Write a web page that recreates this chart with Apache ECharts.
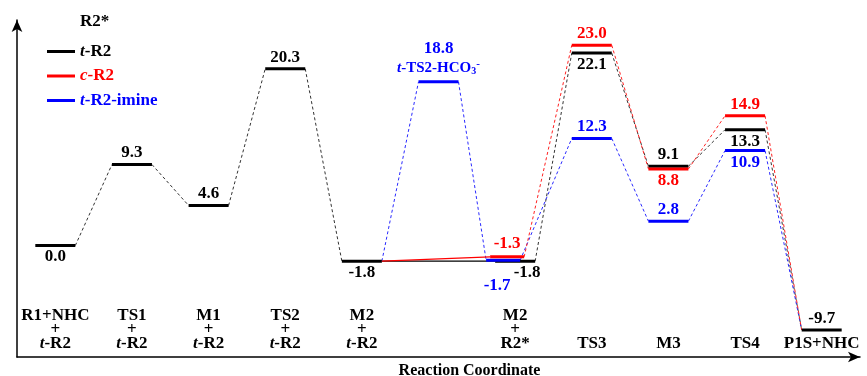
<!DOCTYPE html>
<html><head><meta charset="utf-8">
<script src="https://cdn.jsdelivr.net/npm/echarts@6/dist/echarts.min.js"></script>
<style>html,body{margin:0;padding:0;background:#fff}#c{width:867px;height:376px}</style>
</head><body><div id="c"></div>
<script>
// ---- data ----
const categories = ['R1+NHC\n+\nt-R2', 'TS1\n+\nt-R2', 'M1\n+\nt-R2', 'TS2\n+\nt-R2', 'M2\n+\nt-R2', '', 'M2\n+\nR2*', 'TS3', 'M3', 'TS4', 'P1S+NHC'];
const tR2      = [0.0, 9.3, 4.6, 20.3, -1.8, null, -1.8, 22.1, 9.1, 13.3, -9.7];
const cR2      = [null, null, null, null, null, null, -1.3, 23.0, 8.8, 14.9, null];
const tR2imine = [null, null, null, null, null, 18.8, -1.7, 12.3, 2.8, 10.9, null];
const seriesNames = ['t-R2', 'c-R2', 't-R2-imine'];
const specialStateName = 't-TS2-HCO3-';
const headerText = 'R2*';
const axisName = 'Reaction Coordinate';

// ---- styles ----
const FONT = '"Liberation Serif","Times New Roman",serif';
const COLORS = {'t-R2': '#000000', 'c-R2': '#ff0000', 't-R2-imine': '#0000ff'};
const LINK_COLORS = {'t-R2': '#333333', 'c-R2': '#ff2020', 't-R2-imine': '#2a2aff'};
const HW = 20;
const styleOverrides = {
  't-R2:0': {below: true},
  't-R2:4': {below: true},
  't-R2:6': {below: true, labelDx: 12},
  't-R2:7': {below: true},
  't-R2:9': {below: true},
  'c-R2:6': {dx: -8, hw: 17, labelDy: -2},
  'c-R2:8': {below: true},
  't-R2-imine:5': {named: true},
  't-R2-imine:6': {dx: -12, hw: 17, below: true, labelDx: -6, labelDy: 14},
  't-R2-imine:9': {below: true}
};
const solidLinks = {'t-R2': [[4, 6]], 'c-R2': [[4, 6]]};

function levelStyle(key, idx) {
  const o = styleOverrides[key + ':' + idx] || {};
  return {dx: o.dx || 0, hw: o.hw || HW, below: !!o.below, labelDx: o.labelDx || 0, labelDy: o.labelDy || 0, named: !!o.named};
}

const valuesByName = {'t-R2': tR2, 'c-R2': cR2, 't-R2-imine': tR2imine};

function buildLevels(key) {
  const arr = valuesByName[key];
  const out = [];
  arr.forEach((v, i) => { if (v !== null) out.push({idx: i, v: v}); });
  return out;
}
function buildLinks(key) {
  const arr = valuesByName[key];
  const pts = [];
  arr.forEach((v, i) => { if (v !== null) pts.push({idx: i, v: v, k: key}); });
  if (key !== 't-R2') {
    // branch from and rejoin the t-R2 pathway
    const first = pts[0].idx, last = pts[pts.length - 1].idx;
    for (let i = first - 1; i >= 0; i--) if (tR2[i] !== null) { pts.unshift({idx: i, v: tR2[i], k: 't-R2'}); break; }
    for (let i = last + 1; i < tR2.length; i++) if (tR2[i] !== null) { pts.push({idx: i, v: tR2[i], k: 't-R2'}); break; }
  }
  const links = [];
  for (let j = 0; j < pts.length - 1; j++) {
    const a = pts[j], b = pts[j + 1];
    const solid = (solidLinks[key] || []).some(p => p[0] === a.idx && p[1] === b.idx);
    links.push({a: a, b: b, solid: solid});
  }
  return links;
}

function makeLevelSeries(key, z) {
  const items = buildLevels(key);
  const color = COLORS[key];
  return {
    type: 'custom', name: key, coordinateSystem: 'cartesian2d', z: z,
    itemStyle: {color: color},
    encode: {x: 0, y: 1},
    data: items.map(it => [it.idx, it.v]),
    renderItem: function (params, api) {
      const it = items[params.dataIndex];
      const c = api.coord([it.idx, it.v]);
      const st = levelStyle(key, it.idx);
      const cx = c[0] + st.dx, y = c[1];
      const children = [{type: 'line', shape: {x1: cx - st.hw, y1: y, x2: cx + st.hw, y2: y}, style: {stroke: color, lineWidth: 3}}];
      const text = it.v.toFixed(1);
      if (st.named) {
        children.push({type: 'text', style: {
          text: '{i|t}{n|-TS2-HCO}{sub|3}{sup|-}', x: cx, y: y - 5, align: 'center', verticalAlign: 'bottom', fill: color,
          font: 'bold 15px ' + FONT,
          rich: {
            i: {font: 'italic bold 15px ' + FONT, fill: color, lineHeight: 18, verticalAlign: 'middle'},
            n: {font: 'bold 15px ' + FONT, fill: color, lineHeight: 18, verticalAlign: 'middle'},
            sub: {font: 'bold 10px ' + FONT, fill: color, lineHeight: 10, verticalAlign: 'bottom'},
            sup: {font: 'bold 11px ' + FONT, fill: color, lineHeight: 10, verticalAlign: 'top'}
          }}});
        children.push({type: 'text', style: {text: text, x: cx, y: y - 25, align: 'center', verticalAlign: 'bottom', font: 'bold 17px ' + FONT, fill: color}});
      } else {
        const ty = st.below ? y + 3 + st.labelDy : y - 3 + st.labelDy;
        children.push({type: 'text', style: {text: text, x: cx + st.labelDx, y: ty, align: 'center', verticalAlign: st.below ? 'top' : 'bottom', font: 'bold 17px ' + FONT, fill: color}});
      }
      return {type: 'group', children: children};
    }
  };
}

function makeLinkSeries(key, z) {
  const links = buildLinks(key);
  const color = LINK_COLORS[key];
  return {
    type: 'custom', name: key, coordinateSystem: 'cartesian2d', z: z,
    itemStyle: {color: COLORS[key]},
    encode: {x: [0, 2], y: [1, 3]},
    data: links.map(l => [l.a.idx, l.a.v, l.b.idx, l.b.v]),
    renderItem: function (params, api) {
      const l = links[params.dataIndex];
      const p1 = api.coord([l.a.idx, l.a.v]);
      const p2 = api.coord([l.b.idx, l.b.v]);
      const s1 = levelStyle(l.a.k, l.a.idx), s2 = levelStyle(l.b.k, l.b.idx);
      return {type: 'line',
        shape: {x1: p1[0] + s1.dx + s1.hw, y1: p1[1], x2: p2[0] + s2.dx - s2.hw, y2: p2[1]},
        style: {stroke: l.solid ? COLORS[key] : color, lineWidth: l.solid ? 1.2 : 1, lineDash: l.solid ? null : [3, 2.5]}};
    }
  };
}

const chart = echarts.init(document.getElementById('c'), null, {renderer: 'canvas'});
const legendRich = {
  ik: {fontStyle: 'italic', fontWeight: 'bold', fontSize: 17, fontFamily: FONT, color: COLORS['t-R2'], lineHeight: 17},
  ir: {fontStyle: 'italic', fontWeight: 'bold', fontSize: 17, fontFamily: FONT, color: COLORS['c-R2'], lineHeight: 17},
  ib: {fontStyle: 'italic', fontWeight: 'bold', fontSize: 17, fontFamily: FONT, color: COLORS['t-R2-imine'], lineHeight: 17}
};
chart.setOption({
  animation: false,
  backgroundColor: '#ffffff',
  title: {text: headerText, left: 80, top: 13, padding: 0, textStyle: {fontFamily: FONT, fontWeight: 'bold', fontSize: 17, color: '#000'}},
  legend: {
    orient: 'vertical', left: 47, top: 43, padding: 0, itemWidth: 28, itemHeight: 3, itemGap: 7.5, icon: 'rect',
    selectedMode: false,
    data: seriesNames.map(n => ({name: n, itemStyle: {color: COLORS[n]}, textStyle: {color: COLORS[n]}})),
    formatter: function (name) {
      const tag = name === 'c-R2' ? 'ir' : (name === 't-R2' ? 'ik' : 'ib');
      return '{' + tag + '|' + name.charAt(0) + '}' + name.slice(1);
    },
    textStyle: {fontFamily: FONT, fontWeight: 'bold', fontSize: 17, lineHeight: 17, rich: legendRich}
  },
  grid: {left: 17, right: 7, top: 20, bottom: 19, containLabel: false, outerBoundsMode: 'none'},
  xAxis: {
    type: 'category', data: categories, boundaryGap: true,
    axisLine: {show: true, onZero: false, symbol: ['none', 'arrow'], symbolSize: [8, 12], lineStyle: {color: '#000', width: 1.5}},
    axisTick: {show: false},
    axisLabel: {
      inside: true, interval: 0, margin: 6, color: '#000', fontFamily: FONT, fontWeight: 'bold', fontSize: 17, lineHeight: 14,
      formatter: function (v) {
        return v.split('\n').map(s => s.indexOf('t-') === 0 ? '{i|t}' + s.slice(1) : s).join('\n');
      },
      rich: {i: {fontStyle: 'italic', fontWeight: 'bold', fontSize: 17, fontFamily: FONT, color: '#000', lineHeight: 14}}
    },
    name: axisName, nameLocation: 'middle', nameGap: 2,
    nameTextStyle: {fontFamily: FONT, fontWeight: 'bold', fontSize: 16, color: '#000', verticalAlign: 'top', padding: [0, 0, 0, 62]},
    splitLine: {show: false}
  },
  yAxis: {
    type: 'value', min: -12.8, max: 25.9,
    axisLine: {show: true, symbol: ['none', 'arrow'], symbolSize: [8, 12], lineStyle: {color: '#000', width: 1.5}},
    axisTick: {show: false}, axisLabel: {show: false}, splitLine: {show: false}
  },
  series: [
    makeLinkSeries('t-R2', 2), makeLinkSeries('t-R2-imine', 2), makeLinkSeries('c-R2', 2),
    makeLevelSeries('t-R2', 4), makeLevelSeries('t-R2-imine', 5), makeLevelSeries('c-R2', 6)
  ]
});
</script>
</body></html>
